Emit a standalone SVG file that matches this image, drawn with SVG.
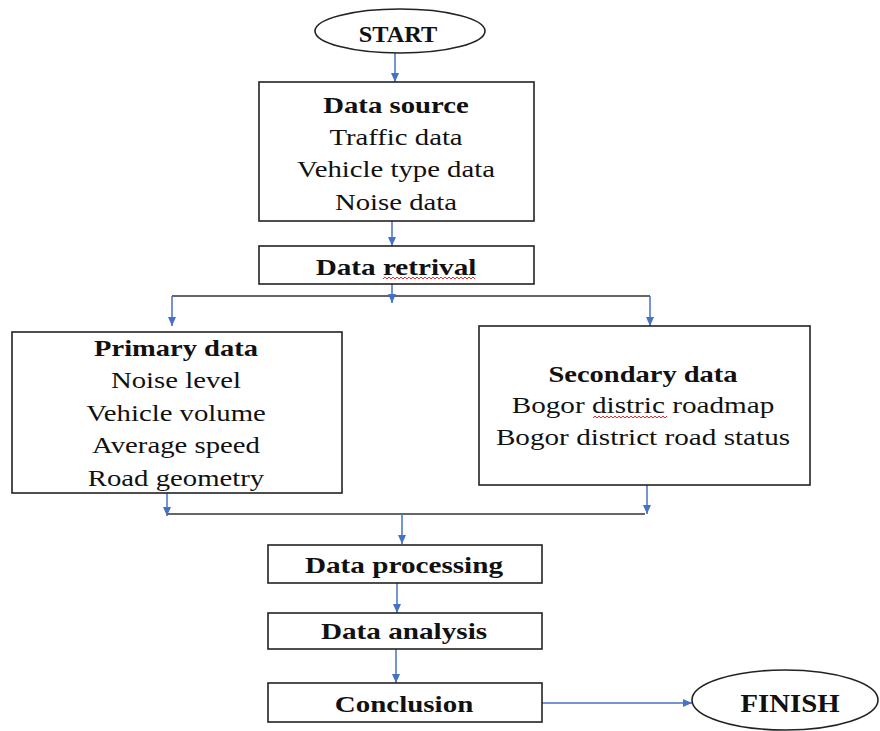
<svg xmlns="http://www.w3.org/2000/svg" width="880" height="731" viewBox="0 0 880 731">
<defs>
<marker id="ah" markerWidth="9" markerHeight="8" refX="9" refY="4" orient="auto" markerUnits="userSpaceOnUse">
<path d="M0,0 L9,4 L0,8 z" fill="#4472C4"/>
</marker>
<style>
.box{fill:#fff;stroke:#222;stroke-width:1.6}
.t{font-family:"Liberation Serif","Times New Roman",serif;font-size:23px;fill:#111;text-anchor:middle}
.b{font-weight:bold}
.c{fill:none;stroke:#4472C4;stroke-width:1.5;marker-end:url(#ah)}
.bus{fill:none;stroke:#333;stroke-width:1.6}
.sq{fill:none;stroke:#e03030;stroke-width:1}
</style>
</defs>
<rect width="880" height="731" fill="#fff"/>

<g id="connectors">
<line class="c" x1="395" y1="53" x2="395" y2="82"/>
<line class="c" x1="392" y1="221" x2="392" y2="246"/>
<line class="bus" x1="172" y1="296" x2="650" y2="296"/>
<line class="c" x1="392" y1="278" x2="392" y2="303"/>
<line class="c" x1="172" y1="296" x2="172" y2="326"/>
<line class="c" x1="650" y1="296" x2="650" y2="326"/>
<line class="bus" x1="167" y1="514" x2="645" y2="514"/>
<line class="c" x1="167" y1="488" x2="167" y2="516"/>
<line class="c" x1="647" y1="485" x2="647" y2="514"/>
<line class="c" x1="402" y1="514" x2="402" y2="544"/>
<line class="c" x1="397" y1="583" x2="397" y2="613"/>
<line class="c" x1="396" y1="649" x2="396" y2="683"/>
<line class="c" x1="542" y1="703" x2="692" y2="703"/>
</g>

<g id="start">
<ellipse class="box" cx="400" cy="31" rx="85" ry="22"/>
<text class="t b" transform="translate(398,42) scale(1.06,1)">START</text>
</g>

<g id="data-source">
<rect class="box" x="259" y="82" width="275" height="139"/>
<text class="t b" transform="translate(396,113) scale(1.25,1)">Data source</text>
<text class="t" transform="translate(396,145) scale(1.25,1)">Traffic data</text>
<text class="t" transform="translate(396,177) scale(1.25,1)">Vehicle type data</text>
<text class="t" transform="translate(396,210) scale(1.25,1)">Noise data</text>
</g>

<g id="data-retrival">
<rect class="box" x="259" y="246" width="275" height="38"/>
<text class="t b" transform="translate(396,275) scale(1.27,1)">Data retrival</text>
<path class="sq" d="M383,279 l2,-2 l2,2 l2,-2 l2,2 l2,-2 l2,2 l2,-2 l2,2 l2,-2 l2,2 l2,-2 l2,2 l2,-2 l2,2 l2,-2 l2,2 l2,-2 l2,2 l2,-2 l2,2 l2,-2 l2,2 l2,-2 l2,2 l2,-2 l2,2 l2,-2 l2,2 l2,-2 l2,2 l2,-2 l2,2 l2,-2 l2,2 l2,-2 l2,2 l2,-2 l2,2 l2,-2 l2,2 l2,-2 l2,2 l2,-2 l2,2 l2,-2 l2,2"/>
</g>

<g id="primary-data">
<rect class="box" x="12" y="332" width="330" height="161"/>
<text class="t b" transform="translate(176,356) scale(1.24,1)">Primary data</text>
<text class="t" transform="translate(176,388) scale(1.25,1)">Noise level</text>
<text class="t" transform="translate(176,421) scale(1.25,1)">Vehicle volume</text>
<text class="t" transform="translate(176,453) scale(1.25,1)">Average speed</text>
<text class="t" transform="translate(176,486) scale(1.25,1)">Road geometry</text>
</g>

<g id="secondary-data">
<rect class="box" x="479" y="326" width="331" height="159"/>
<text class="t b" transform="translate(643,382) scale(1.24,1)">Secondary data</text>
<text class="t" transform="translate(643,413) scale(1.27,1)">Bogor distric roadmap</text>
<text class="t" transform="translate(643,445) scale(1.27,1)">Bogor district road status</text>
<path class="sq" d="M593,418 l2,-2 l2,2 l2,-2 l2,2 l2,-2 l2,2 l2,-2 l2,2 l2,-2 l2,2 l2,-2 l2,2 l2,-2 l2,2 l2,-2 l2,2 l2,-2 l2,2 l2,-2 l2,2 l2,-2 l2,2 l2,-2 l2,2 l2,-2 l2,2 l2,-2 l2,2 l2,-2 l2,2 l2,-2 l2,2 l2,-2 l2,2 l2,-2 l2,2 l2,-2"/>
</g>

<g id="data-processing">
<rect class="box" x="268" y="545" width="274" height="38"/>
<text class="t b" transform="translate(404,573) scale(1.27,1)">Data processing</text>
</g>

<g id="data-analysis">
<rect class="box" x="268" y="613" width="274" height="36"/>
<text class="t b" transform="translate(404,639) scale(1.27,1)">Data analysis</text>
</g>

<g id="conclusion">
<rect class="box" x="268" y="683" width="274" height="39"/>
<text class="t b" transform="translate(404,712) scale(1.26,1)">Conclusion</text>
</g>

<g id="finish">
<ellipse class="box" cx="785" cy="700" rx="93" ry="30"/>
<text class="t b" style="font-size:25px" transform="translate(790,712) scale(1.15,1)">FINISH</text>
</g>
</svg>
